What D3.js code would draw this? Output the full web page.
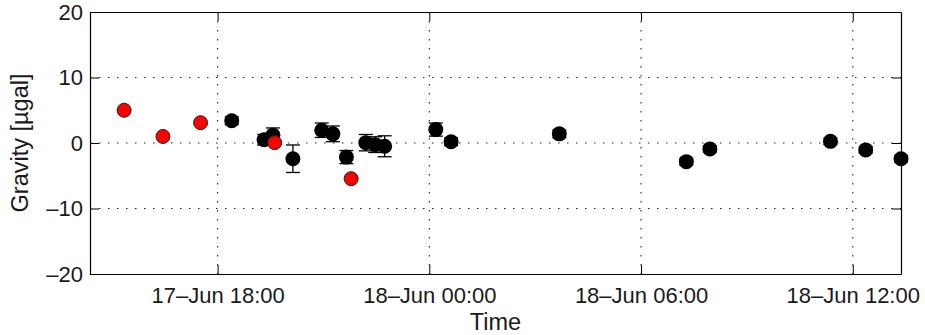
<!DOCTYPE html>
<html>
<head>
<meta charset="utf-8">
<script src="https://cdn.jsdelivr.net/npm/d3@7"></script>
<style>
  body { margin:0; background:#fff; }
  text { font-family:"Liberation Sans", Arial, Helvetica, sans-serif; fill:#1a1a1a; }
</style>
</head>
<body>
<div id="chart"></div>
<script>
/* ── data ───────────────────────────────────────── */
// black series: time, value, error (µgal)
const blackTimes  = ['2012-06-17 18:24','2012-06-17 19:19','2012-06-17 19:34','2012-06-17 20:08',
                     '2012-06-17 20:57','2012-06-17 21:16','2012-06-17 21:39','2012-06-17 22:12',
                     '2012-06-17 22:28','2012-06-17 22:44','2012-06-18 00:11','2012-06-18 00:37',
                     '2012-06-18 03:41','2012-06-18 07:17','2012-06-18 07:57','2012-06-18 11:22',
                     '2012-06-18 12:22','2012-06-18 13:22'];
const blackValues = [3.4, 0.5, 1.2, -2.4, 1.95, 1.4, -2.15, 0.05, -0.25, -0.5, 2.05, 0.2, 1.4, -2.85, -0.9, 0.25, -1.05, -2.4];
const blackErrors = [0.6, 0.8, 1.1, 2.1, 1.1, 1.2, 1.0, 1.25, 1.2, 1.6, 1.0, 0.6, 0.6, 0.5, 0.5, 0.5, 0.5, 0.5];

// red series
const redTimes  = ['2012-06-17 15:21','2012-06-17 16:27','2012-06-17 17:31','2012-06-17 19:37','2012-06-17 21:47'];
const redValues = [5.0, 1.0, 3.1, 0.05, -5.45];

const xDomain = ['2012-06-17 14:23','2012-06-18 13:22'];
const yTicks  = [-20, -10, 0, 10, 20];

/* ── layout ─────────────────────────────────────── */
const WIDTH = 925, HEIGHT = 335;
const MARGIN = {top:12, right:24, bottom:61, left:90};
const parse = d3.timeParse('%Y-%m-%d %H:%M');

const svg = d3.select('#chart').append('svg')
  .attr('width', WIDTH).attr('height', HEIGHT);

const x = d3.scaleTime()
  .domain(xDomain.map(parse))
  .range([MARGIN.left, WIDTH - MARGIN.right]);
const y = d3.scaleLinear()
  .domain([-20, 20])
  .range([HEIGHT - MARGIN.bottom, MARGIN.top]);

const xTicks = x.ticks(d3.timeHour.every(6));
const fmt = d3.timeFormat('%d–%b %H:%M');
const minus = v => (v < 0 ? '–' + Math.abs(v) : '' + v);

/* grid (dotted) */
const grid = svg.append('g')
  .attr('stroke', '#222').attr('stroke-width', 1.1)
  .attr('stroke-dasharray', '1.5,7.5');
grid.selectAll('.gx').data(xTicks).enter().append('line')
  .attr('x1', d => x(d)).attr('x2', d => x(d))
  .attr('y1', y(20)).attr('y2', y(-20));
grid.selectAll('.gy').data(yTicks.slice(1, -1)).enter().append('line')
  .attr('x1', x.range()[0]).attr('x2', x.range()[1])
  .attr('y1', d => y(d)).attr('y2', d => y(d));

/* axes, ticks pointing inside */
const TICK = 9;
const gB = svg.append('g').attr('transform', `translate(0,${y(-20)})`)
  .call(d3.axisBottom(x).tickValues(xTicks).tickFormat(fmt).tickSizeInner(-TICK).tickSizeOuter(0).tickPadding(13));
const gT = svg.append('g').attr('transform', `translate(0,${y(20)})`)
  .call(d3.axisTop(x).tickValues(xTicks).tickFormat('').tickSizeInner(-TICK).tickSizeOuter(0));
const gL = svg.append('g').attr('transform', `translate(${x.range()[0]},0)`)
  .call(d3.axisLeft(y).tickValues(yTicks).tickFormat(minus).tickSizeInner(-TICK).tickSizeOuter(0).tickPadding(7));
const gR = svg.append('g').attr('transform', `translate(${x.range()[1]},0)`)
  .call(d3.axisRight(y).tickValues(yTicks).tickFormat('').tickSizeInner(-TICK).tickSizeOuter(0));

[gB, gT, gL, gR].forEach(g => {
  g.select('.domain').attr('stroke', '#000').attr('stroke-width', 1.2);
  g.selectAll('.tick line').attr('stroke', '#000').attr('stroke-width', 1);
  g.selectAll('text').attr('font-size', 22).attr('fill', '#1a1a1a')
   .attr('font-family', '"Liberation Sans", Arial, Helvetica, sans-serif');
});

/* axis labels */
svg.append('text')
  .attr('x', (x.range()[0] + x.range()[1]) / 2).attr('y', 330)
  .attr('text-anchor', 'middle').attr('font-size', 23.5)
  .text('Time');
svg.append('text')
  .attr('transform', `translate(28,${y(0)}) rotate(-90)`)
  .attr('text-anchor', 'middle').attr('font-size', 23.5)
  .text('Gravity [µgal]');

/* black series with error bars */
const black = blackTimes.map((t, i) => ({t: parse(t), v: blackValues[i], e: blackErrors[i]}));
const red   = redTimes.map((t, i) => ({t: parse(t), v: redValues[i]}));
const CAP = 7;

const eb = svg.append('g').attr('stroke', '#000').attr('stroke-width', 1.3);
black.forEach(d => {
  const cx = x(d.t), y1 = y(d.v + d.e), y2 = y(d.v - d.e);
  eb.append('line').attr('x1', cx).attr('x2', cx).attr('y1', y1).attr('y2', y2);
  eb.append('line').attr('x1', cx - CAP).attr('x2', cx + CAP).attr('y1', y1).attr('y2', y1);
  eb.append('line').attr('x1', cx - CAP).attr('x2', cx + CAP).attr('y1', y2).attr('y2', y2);
});

svg.append('g').selectAll('circle').data(black).enter().append('circle')
  .attr('cx', d => x(d.t)).attr('cy', d => y(d.v)).attr('r', 7.5)
  .attr('fill', '#000');

svg.append('g').selectAll('circle').data(red).enter().append('circle')
  .attr('cx', d => x(d.t)).attr('cy', d => y(d.v)).attr('r', 7)
  .attr('fill', '#ff0000').attr('stroke', '#222').attr('stroke-width', 1);
</script>
</body>
</html>
